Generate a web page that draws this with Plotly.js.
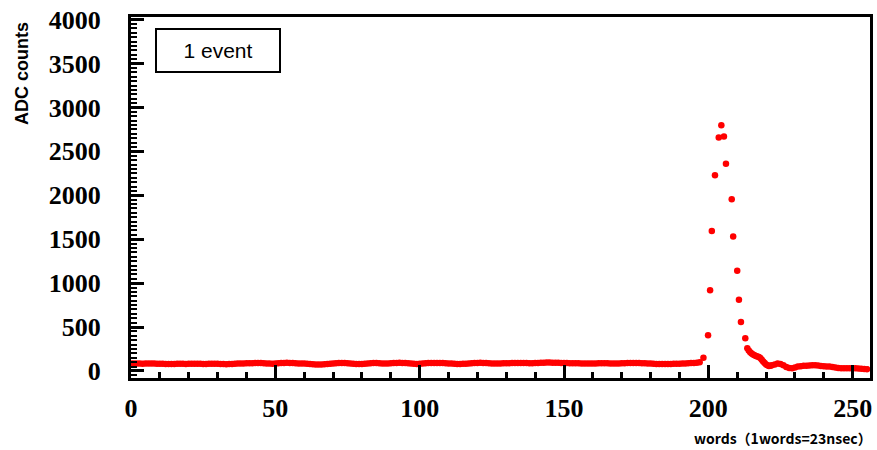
<!DOCTYPE html>
<html>
<head>
<meta charset="utf-8">
<script src="https://cdn.plot.ly/plotly-3.0.1.min.js"></script>
<style>
html,body{margin:0;padding:0;background:#fff;}
#chart{width:877px;height:450px;}
#chart .xtick text, #chart .ytick text {
  font-family: 'Liberation Serif', 'DejaVu Serif', serif !important;
  font-weight: 700 !important;
}
</style>
</head>
<body>
<div id="chart"></div>
<script>
// Baseline words 0..197
var baseX = [];
for (var i = 0; i < 198; i++) baseX.push(i);
var baseY = [
85,84,86,85,83,84,86,85,84,83,
82,81,80,80,79,80,81,82,81,80,
81,82,83,82,81,80,80,81,82,83,
82,80,78,77,78,80,82,84,85,86,
87,88,89,90,91,90,88,86,84,82,
84,87,90,92,93,92,90,88,86,85,
84,82,79,76,74,73,74,76,79,82,
85,88,90,91,90,88,85,82,80,79,
80,82,85,88,90,90,88,86,84,85,
87,90,92,93,92,90,87,84,82,80,
82,85,88,90,91,92,92,91,90,88,
86,84,82,80,80,81,83,86,88,90,
92,93,92,90,88,86,85,85,86,87,
88,89,90,91,92,92,91,90,89,88,
90,92,94,95,96,96,95,94,93,92,
91,90,89,88,88,87,86,85,84,84,
85,86,87,88,88,87,86,85,85,86,
87,89,90,91,92,91,90,89,88,86,
84,82,80,79,78,78,79,80,81,82,
83,84,86,88,90,92,95,100
];
// Pulse
var peakX = [198.3, 199.9, 200.6, 201.2, 202.3, 203.6, 204.5, 205.4, 206.1, 208.1, 208.6, 210.0, 210.6, 211.3, 212.8, 213.5];
var peakY = [150, 407, 919, 1595, 2229, 2657, 2798, 2669, 2358, 1956, 1530, 1142, 812, 558, 372, 259];
// Tail
var tailX = [214, 214.5, 215, 215.5, 216, 216.5, 217, 217.5, 218, 218.5, 219, 219.5, 220, 220.5, 221, 221.5, 222, 223, 224, 225, 226, 227, 228, 229, 230, 231, 232, 233, 234, 235, 236, 237, 238, 239, 240, 241, 242, 243, 244, 245, 246, 247, 248, 249, 250, 251, 252, 253, 254, 255];
var tailY = [232, 212, 198, 188, 178, 170, 164, 158, 148, 128, 108, 92, 74, 64, 58, 60, 64, 74, 84, 80, 64, 45, 35, 32, 40, 50, 55, 60, 60, 62, 65, 65, 62, 58, 55, 52, 50, 45, 40, 35, 32, 30, 30, 30, 32, 30, 28, 25, 22, 20];

var xs = baseX.concat(peakX, tailX);
var ys = baseY.concat(peakY, tailY);

var L0 = 131, R0 = 870, T0 = 17, B0 = 378;
function px(p){ return (p - L0) / (R0 - L0); }
function py(p){ return (B0 - p) / (B0 - T0); }

function tickFont() { return {family: 'Liberation Serif', size: 26, color: '#000', weight: 'bold'}; }
var sans = 'Liberation Sans';
var gothic = 'Noto Sans CJK JP';

var trace = {
  x: xs, y: ys, type: 'scatter', mode: 'markers',
  marker: {color: '#ff0000', size: 6.5, line: {width: 0}},
  hoverinfo: 'skip'
};

var layout = {
  width: 877, height: 450,
  margin: {l: L0, r: 877 - R0, t: T0, b: 450 - B0},
  paper_bgcolor: '#fff', plot_bgcolor: '#fff',
  showlegend: false,
  xaxis: {
    range: [0, 256], showgrid: false, zeroline: false,
    showline: true, linecolor: '#000', linewidth: 3, mirror: true,
    ticks: 'inside', tick0: 0, dtick: 50, ticklen: 13, tickwidth: 3, tickcolor: '#000',
    minor: {ticks: 'inside', dtick: 10, ticklen: 6, tickwidth: 3, tickcolor: '#000', showgrid: false},
    tickfont: tickFont(), ticklabelstandoff: 5
  },
  yaxis: {
    range: [-80, 4030], showgrid: false, zeroline: false,
    showline: true, linecolor: '#000', linewidth: 3, mirror: true,
    ticks: 'inside', tick0: 0, dtick: 500, ticklen: 13, tickwidth: 3, tickcolor: '#000',
    minor: {ticks: 'inside', dtick: 50, ticklen: 6, tickwidth: 2, tickcolor: '#000', showgrid: false},
    tickfont: tickFont(), ticklabelstandoff: 22
  },
  annotations: [
    {
      xref: 'paper', yref: 'paper', x: px(218), y: py(50),
      xanchor: 'center', yanchor: 'middle', showarrow: false,
      text: '1 event', width: 122, height: 41,
      font: {family: sans, size: 21, color: '#000'},
      bordercolor: '#000', borderwidth: 2, borderpad: 0, bgcolor: '#fff'
    },
    {
      xref: 'paper', yref: 'paper', x: px(22), y: py(73),
      xanchor: 'center', yanchor: 'middle', showarrow: false, textangle: -90,
      text: '<b>ADC counts</b>',
      font: {family: sans, size: 18, color: '#000'}
    },
    {
      xref: 'paper', yref: 'paper', x: px(874), y: py(438),
      xanchor: 'right', yanchor: 'middle', showarrow: false,
      text: '<b>words（1words=23nsec）</b>',
      font: {family: gothic, size: 14, color: '#000'}
    }
  ]
};

Plotly.newPlot('chart', [trace], layout, {staticPlot: true});
</script>
</body>
</html>
